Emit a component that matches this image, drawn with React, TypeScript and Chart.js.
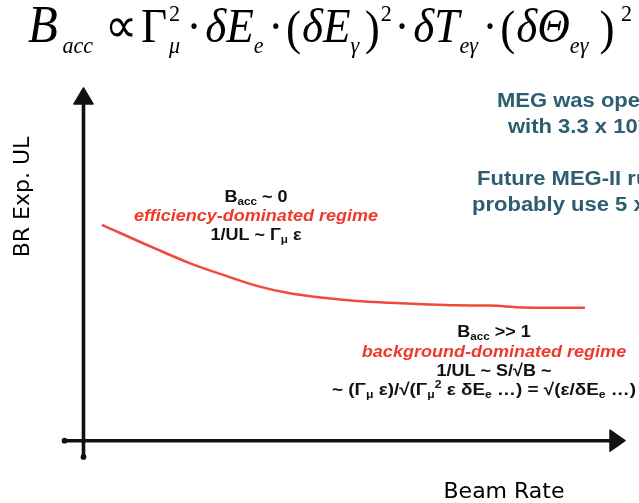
import React, { useEffect, useRef } from "react";
import { Chart, registerables } from "chart.js";

Chart.register(...registerables);

// Expected upper limit on the branching ratio versus muon beam rate (arbitrary units)
const beamRate = [3.4, 13.5, 19.7, 25.8, 32.0, 38.1, 44.3, 50.5, 56.6, 62.8, 68.9, 75.1, 81.2, 92.6];
const expUL = [61.2, 54.3, 50.3, 47.0, 43.9, 41.8, 40.5, 39.6, 39.1, 38.7, 38.4, 38.3, 37.8, 37.7];

const X_MAX = 100;
const Y_MAX = 100;
const X_AXIS_FROM = -3.5;
const Y_AXIS_FROM = -4.6;

const xTitle = "Beam Rate";
const yTitle = "BR Exp. UL";

type Seg = { t: string; s?: "sub" | "sup" };

const lowRegime: Seg[][] = [
  [{ t: "B" }, { t: "acc", s: "sub" }, { t: " ~ 0" }],
  [{ t: "efficiency-dominated regime" }],
  [{ t: "1/UL ~ Γ" }, { t: "μ", s: "sub" }, { t: " ε" }],
];

const highRegime: Seg[][] = [
  [{ t: "B" }, { t: "acc", s: "sub" }, { t: " >> 1" }],
  [{ t: "background-dominated regime" }],
  [{ t: "1/UL ~ S/√B ~" }],
];

const highFormula: Seg[] = [
  { t: "~ (Γ" }, { t: "μ", s: "sub" }, { t: " ε)/√(Γ" }, { t: "μ", s: "sub" }, { t: "2", s: "sup" },
  { t: " ε δE" }, { t: "e", s: "sub" }, { t: " …) = √(ε/δE" }, { t: "e", s: "sub" }, { t: " …)" },
];

const megNotes = [
  "MEG was operated",
  "with 3.3 x 10⁷ μ/s",
  "Future MEG-II runs will",
  "probably use 5 x 10⁷ μ/s",
];

// Accidental-background scaling, laid out left to right
type Run = {
  t: string;
  kind: "main" | "sub" | "sup" | "fence";
  italic?: boolean;
  gap?: number;
  under?: string;
  size?: number;
};
const accFormula: Run[] = [
  { t: "B", kind: "main", italic: true, size: 53 },
  { t: "acc", kind: "sub", italic: true, gap: 5 },
  { t: "∝", kind: "main", gap: 13 },
  { t: "Γ", kind: "main", gap: 4 },
  { t: "2", kind: "sup", gap: 2, under: "μ" },
  { t: "·", kind: "main", gap: 7 },
  { t: "δE", kind: "main", italic: true, gap: 4 },
  { t: "e", kind: "sub", italic: true },
  { t: "·", kind: "main", gap: 5 },
  { t: "(", kind: "fence", gap: 3 },
  { t: "δE", kind: "main", italic: true, gap: 1 },
  { t: "γ", kind: "sub", italic: true },
  { t: ")", kind: "fence", gap: 6 },
  { t: "2", kind: "sup", gap: 1 },
  { t: "·", kind: "main", gap: 3 },
  { t: "δT", kind: "main", italic: true, gap: 4 },
  { t: "eγ", kind: "sub", italic: true },
  { t: "·", kind: "main", gap: 5 },
  { t: "(", kind: "fence", gap: 3 },
  { t: "δΘ", kind: "main", italic: true, gap: 1 },
  { t: "eγ", kind: "sub", italic: true },
  { t: ")", kind: "fence", gap: 12 },
  { t: "2", kind: "sup", gap: 7 },
];

const FORMULA_LEFT = 28;
const FORMULA_RIGHT = 632;
const SIZE = { main: 49, fence: 49, sub: 24, sup: 24 };
const BASE = { main: 42, fence: 44, sub: 53, sup: 21 };

const SANS = "'Liberation Sans', Arial, Helvetica, sans-serif";
const SERIF = "'Liberation Serif', 'Times New Roman', serif";
const HAND = "'DejaVu Sans', sans-serif";

function richLine(
  ctx: CanvasRenderingContext2D,
  segs: Seg[],
  x: number,
  y: number,
  size: number,
  color: string,
  italic: boolean,
  align: "center" | "left",
  stretch = 1,
  fitWidth?: number
) {
  const font = (sz: number) => `${italic ? "italic " : ""}bold ${sz}px ${SANS}`;
  const parts = segs.map((seg) => {
    const sz = seg.s ? Math.round(size * 0.62) : size;
    ctx.font = font(sz);
    return { seg, sz, w: ctx.measureText(seg.t).width };
  });
  const raw = parts.reduce((a, p) => a + p.w, 0);
  const sx = fitWidth ? fitWidth / raw : stretch;
  const total = raw * sx;
  const left = align === "center" ? x - total / 2 : x;
  ctx.save();
  ctx.translate(left, y);
  ctx.scale(sx, 1);
  ctx.fillStyle = color;
  ctx.textAlign = "left";
  ctx.textBaseline = "alphabetic";
  let cx = 0;
  for (const p of parts) {
    ctx.font = font(p.sz);
    const dy = p.seg.s === "sub" ? size * 0.2 : p.seg.s === "sup" ? -size * 0.4 : 0;
    ctx.fillText(p.seg.t, cx, dy);
    cx += p.w;
  }
  ctx.restore();
}

function drawFormula(ctx: CanvasRenderingContext2D) {
  const fontOf = (r: { kind: Run["kind"]; italic?: boolean; size?: number }) =>
    `${r.italic ? "italic " : ""}${r.size ?? SIZE[r.kind]}px ${SERIF}`;
  const subFont = fontOf({ kind: "sub", italic: true });
  let pos = 0;
  const placed: { r: Run; x: number }[] = [];
  for (const r of accFormula) {
    pos += r.gap ?? 0;
    ctx.font = fontOf(r);
    let w = ctx.measureText(r.t).width;
    if (r.under) {
      ctx.font = subFont;
      w = Math.max(w, ctx.measureText(r.under).width);
    }
    placed.push({ r, x: pos });
    pos += w;
  }
  const sx = (FORMULA_RIGHT - FORMULA_LEFT) / pos;
  ctx.save();
  ctx.fillStyle = "#000";
  ctx.textAlign = "left";
  ctx.textBaseline = "alphabetic";
  ctx.translate(FORMULA_LEFT, 0);
  ctx.scale(sx, 1);
  for (const { r, x } of placed) {
    ctx.font = fontOf(r);
    ctx.fillText(r.t, x, BASE[r.kind]);
    if (r.under) {
      ctx.font = subFont;
      ctx.fillText(r.under, x, BASE.sub);
    }
  }
  ctx.restore();
}

const sketchAxes = {
  id: "sketchAxes",
  afterDatasetsDraw(chart: Chart) {
    const ctx = chart.ctx;
    const xs = chart.scales.x;
    const ys = chart.scales.y;
    const x0 = xs.getPixelForValue(0);
    const y0 = ys.getPixelForValue(0);
    const xEnd = xs.getPixelForValue(X_MAX);
    const yEnd = ys.getPixelForValue(Y_MAX);
    const xFrom = xs.getPixelForValue(X_AXIS_FROM);
    const yFrom = ys.getPixelForValue(Y_AXIS_FROM);

    ctx.save();
    ctx.strokeStyle = "#111";
    ctx.fillStyle = "#111";
    ctx.lineWidth = 3.6;
    ctx.lineCap = "round";

    ctx.beginPath();
    ctx.moveTo(xFrom, y0);
    ctx.lineTo(xEnd - 12, y0);
    ctx.moveTo(x0, yFrom);
    ctx.lineTo(x0, yEnd + 12);
    ctx.stroke();

    ctx.beginPath();
    ctx.arc(xFrom, y0, 2.9, 0, Math.PI * 2);
    ctx.arc(x0, yFrom, 2.9, 0, Math.PI * 2);
    ctx.fill();

    ctx.lineJoin = "round";
    ctx.lineWidth = 1.5;
    ctx.beginPath();
    ctx.moveTo(xEnd, y0);
    ctx.lineTo(xEnd - 15, y0 - 10.5);
    ctx.lineTo(xEnd - 15, y0 + 10.5);
    ctx.closePath();
    ctx.moveTo(x0, yEnd);
    ctx.lineTo(x0 - 9.5, yEnd + 16);
    ctx.lineTo(x0 + 9.5, yEnd + 16);
    ctx.closePath();
    ctx.fill();
    ctx.stroke();

    // axis titles
    ctx.fillStyle = "#000";
    ctx.font = `22px ${HAND}`;
    ctx.textAlign = "center";
    ctx.textBaseline = "middle";
    ctx.fillText(xTitle, 504, 492);
    ctx.translate(23, 197);
    ctx.rotate(-Math.PI / 2);
    ctx.fillText(yTitle, 0, 0);
    ctx.restore();

    ctx.save();
    // regime annotations
    const red = "#ee3a2a";
    const ink = "#111";
    const lowBase = [202, 221, 240];
    lowRegime.forEach((line, i) =>
      richLine(ctx, line, 256, lowBase[i], 17, i === 1 ? red : ink, i === 1, "center", 1.06)
    );
    const highBase = [337, 357, 376];
    highRegime.forEach((line, i) =>
      richLine(ctx, line, 494, highBase[i], 17, i === 1 ? red : ink, i === 1, "center", 1.06)
    );
    richLine(ctx, highFormula, 332, 395, 17, ink, false, "left", 1, 304);

    // notes on the beam intensity
    const teal = "#2c5d70";
    const noteX = [497, 508, 477, 472];
    const noteBase = [107, 133, 185, 211];
    ctx.fillStyle = teal;
    ctx.font = `bold 20px ${SANS}`;
    ctx.textAlign = "left";
    ctx.textBaseline = "alphabetic";
    megNotes.forEach((t, i) => {
      ctx.save();
      ctx.translate(noteX[i], noteBase[i]);
      ctx.scale(1.1, 1);
      ctx.fillText(t, 0, 0);
      ctx.restore();
    });
    ctx.restore();

    drawFormula(ctx);
  },
};

export default function App() {
  const canvasRef = useRef<HTMLCanvasElement | null>(null);

  useEffect(() => {
    if (!canvasRef.current) return;
    const chart = new Chart(canvasRef.current, {
      type: "line",
      data: {
        datasets: [
          {
            data: beamRate.map((x, i) => ({ x, y: expUL[i] })),
            borderColor: "#f04a3c",
            borderWidth: 2.5,
            pointRadius: 0,
            tension: 0.4,
            cubicInterpolationMode: "monotone",
            fill: false,
          },
        ],
      },
      options: {
        animation: false,
        responsive: true,
        maintainAspectRatio: false,
        devicePixelRatio: 1,
        layout: { padding: { left: 83.5, right: 14, top: 88, bottom: 62.3 } },
        scales: {
          x: { type: "linear", min: 0, max: X_MAX, display: false },
          y: { type: "linear", min: 0, max: Y_MAX, display: false },
        },
        plugins: { legend: { display: false }, tooltip: { enabled: false } },
        events: [],
      },
      plugins: [sketchAxes],
    });
    return () => chart.destroy();
  }, []);

  return (
    <div style={{ position: "absolute", left: 0, top: 0, width: 639, height: 503, background: "#fff" }}>
      <canvas ref={canvasRef} />
    </div>
  );
}
